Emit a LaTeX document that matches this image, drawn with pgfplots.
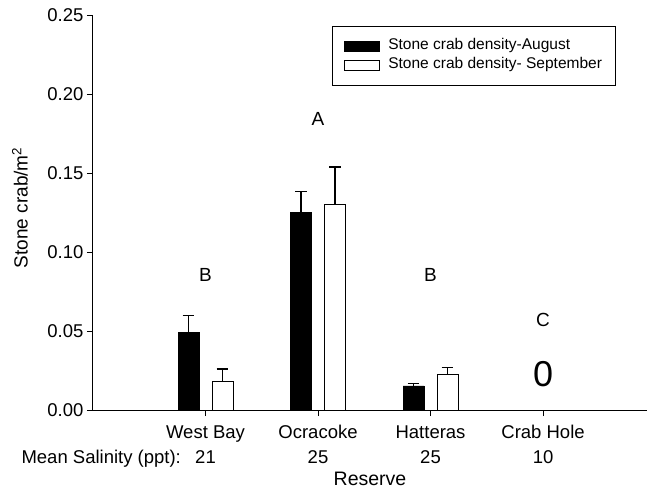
\documentclass[border=0pt]{standalone}
\usepackage{fontspec}
\setmainfont{Liberation Sans}
\usepackage{pgfplots}
\pgfplotsset{compat=1.18}
\begin{document}
\begin{tikzpicture}
\path[use as bounding box] (-93pt,-80pt) rectangle (554pt,410pt);
\begin{axis}[
  at={(0,0)}, anchor=south west,
  scale only axis, width=554pt, height=395pt,
  clip=false,
  xmin=0, xmax=4.924, ymin=0, ymax=0.25,
  axis x line*=bottom, axis y line*=left,
  axis line style={line width=1pt, -},
  ybar=13pt, bar width=21pt,
  xtick={1,2,3,4},
  xticklabels={West Bay\\21, Ocracoke\\25, Hatteras\\25, Crab Hole\\10},
  xticklabel style={align=center, font=\fontsize{18.5}{25}\selectfont, yshift=-6pt},
  ytick={0,0.05,0.10,0.15,0.20,0.25},
  yticklabel style={/pgf/number format/.cd, fixed, fixed zerofill, precision=2, /tikz/.cd, font=\fontsize{18.5}{22}\selectfont},
  /pgf/number format/assume math mode=true,
  tick align=outside, major tick length=6pt,
  tick style={black, line width=1pt},
  xlabel={Reserve},
  xlabel style={font=\fontsize{19.5}{22}\selectfont, yshift=-1pt},
  legend style={at={(0.4314,0.9722)}, anchor=north west, draw=black, line width=1pt,
    font=\fontsize{15.5}{19}\selectfont, inner xsep=12pt, inner ysep=10.5pt,
    row sep=0pt, column sep=6pt,
    nodes={inner sep=2pt, text height=11pt, text depth=4pt}},
  legend cell align=left,
  legend image code/.code={\draw[#1, line width=0.8pt] (0pt,-5pt) rectangle (35pt,5pt);},
]
\addplot[fill=black, draw=black, line width=0.8pt,
  error bars/.cd, y dir=plus, y explicit,
  error bar style={line width=1.2pt, black},
  error mark options={rotate=90, mark size=5.8pt, line width=1.2pt, black}]
  table[x=x, y=y, y error=e] {
x y e
1 0.0488 0.0112
2 0.125 0.0135
3 0.0152 0.0016
};
\addlegendentry{Stone crab density-August}
\addplot[fill=white, draw=black, line width=0.8pt,
  error bars/.cd, y dir=plus, y explicit,
  error bar style={line width=1.2pt, black},
  error mark options={rotate=90, mark size=5.8pt, line width=1.2pt, black}]
  table[x=x, y=y, y error=e] {
x y e
1 0.018 0.008
2 0.130 0.0238
3 0.0226 0.0044
};
\addlegendentry{Stone crab density- September}
\node[font=\fontsize{19}{22}\selectfont] at (axis cs:2,0.1844) {A};
\node[font=\fontsize{19}{22}\selectfont] at (axis cs:1,0.0856) {B};
\node[font=\fontsize{19}{22}\selectfont] at (axis cs:3,0.0856) {B};
\node[font=\fontsize{19}{22}\selectfont] at (axis cs:4,0.057) {C};
\node[font=\fontsize{36}{40}\selectfont] at (axis cs:4,0.0225) {0};
\node[rotate=90, yshift=73pt, font=\fontsize{19}{22}\selectfont] at (axis cs:0,0.128) {Stone crab/m\textsuperscript{2}};
\node[anchor=base west, xshift=-75pt, yshift=-53pt, font=\fontsize{18.5}{22}\selectfont] at (axis cs:0,0) {Mean Salinity (ppt):};
\end{axis}
\end{tikzpicture}
\end{document}
